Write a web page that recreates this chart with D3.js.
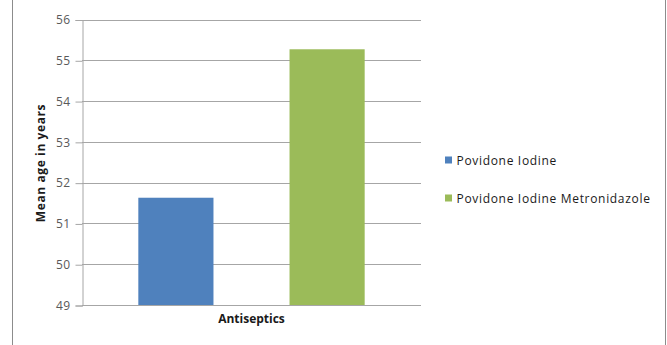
<!DOCTYPE html>
<html>
<head>
<meta charset="utf-8">
<script src="https://cdn.jsdelivr.net/npm/d3@7/dist/d3.min.js"></script>
<style>
  html, body { margin: 0; padding: 0; background: #ffffff; }
  svg { display: block; }
</style>
</head>
<body>
<svg id="chart" width="667" height="345"></svg>
<script>
// Mean age per antiseptic group
const categories = ["Antiseptics"];
const seriesNames = ["Povidone Iodine", "Povidone Iodine Metronidazole"];
const seriesValues = [51.63, 55.27];
const seriesColors = ["#4f81bd", "#9bbb59"];
const yTicks = [49, 50, 51, 52, 53, 54, 55, 56];

const svg = d3.select("#chart");
const font = "'Open Sans', 'Noto Sans', sans-serif";

// chart frame
svg.append("line").attr("x1", 12.5).attr("x2", 12.5).attr("y1", 0).attr("y2", 345)
  .attr("stroke", "#8c8c8c").attr("stroke-width", 1);
svg.append("line").attr("x1", 665.5).attr("x2", 665.5).attr("y1", 0).attr("y2", 345)
  .attr("stroke", "#8c8c8c").attr("stroke-width", 1);

const plot = { left: 82, right: 421, top: 19.5, bottom: 305 };

const y = d3.scaleLinear().domain([49, 56]).range([plot.bottom, plot.top]);
const x0 = d3.scaleBand().domain(categories).range([plot.left, plot.right]).padding(0);
const x1 = d3.scaleBand().domain(seriesNames).range([0, x0.bandwidth()])
  .paddingInner(0.503).paddingOuter(0.3725);

// horizontal gridlines
svg.append("g").selectAll("line").data(yTicks.slice(1)).join("line")
  .attr("x1", plot.left).attr("x2", plot.right)
  .attr("y1", d => Math.round(y(d)) + 0.5).attr("y2", d => Math.round(y(d)) + 0.5)
  .attr("stroke", "#a6a6a6").attr("stroke-width", 1);

// y axis
const yAxis = d3.axisLeft(y).tickValues(yTicks).tickFormat(d3.format("d"))
  .tickSize(7).tickPadding(5);
const gy = svg.append("g").attr("transform", `translate(${plot.left + 0.5},0.5)`).call(yAxis);
gy.select(".domain").attr("stroke", "#a6a6a6");
gy.selectAll(".tick line").attr("stroke", "#a6a6a6");
gy.selectAll(".tick text").attr("fill", "#595959").attr("font-family", font)
  .attr("font-size", 12).attr("letter-spacing", 0.4);

// bars
const groups = svg.append("g").selectAll("g").data(categories).join("g")
  .attr("transform", d => `translate(${x0(d)},0)`);
groups.selectAll("rect")
  .data(() => seriesNames.map((s, i) => ({ s, v: seriesValues[i], c: seriesColors[i] })))
  .join("rect")
  .attr("x", d => x1(d.s))
  .attr("width", x1.bandwidth())
  .attr("y", d => y(d.v))
  .attr("height", d => y(49) - y(d.v))
  .attr("fill", d => d.c);

// x axis baseline
svg.append("line").attr("x1", plot.left).attr("x2", plot.right)
  .attr("y1", Math.round(y(49)) + 0.5).attr("y2", Math.round(y(49)) + 0.5)
  .attr("stroke", "#a6a6a6");

// category label
svg.append("g").selectAll("text").data(categories).join("text")
  .attr("x", d => x0(d) + x0.bandwidth() / 2)
  .attr("y", 323)
  .attr("text-anchor", "middle")
  .attr("font-family", font).attr("font-size", 12).attr("font-weight", "bold")
  .attr("fill", "#1a1a1a")
  .text(d => d);

// y axis title
svg.append("text")
  .attr("transform", "translate(45,163) rotate(-90)")
  .attr("text-anchor", "middle")
  .attr("font-family", font).attr("font-size", 12).attr("font-weight", "bold")
  .attr("letter-spacing", 0.6)
  .attr("fill", "#1a1a1a")
  .text("Mean age in years");

// legend
const legend = svg.append("g").selectAll("g").data(seriesNames).join("g")
  .attr("transform", (d, i) => `translate(445,${160 + i * 38})`);
legend.append("rect").attr("x", 0).attr("y", -3.5).attr("width", 7).attr("height", 7)
  .attr("fill", (d, i) => seriesColors[i]);
legend.append("text").attr("x", 11.5).attr("y", 4.5)
  .attr("font-family", font).attr("font-size", 12).attr("letter-spacing", 0.68)
  .attr("fill", "#1a1a1a")
  .text(d => d);
</script>
</body>
</html>
